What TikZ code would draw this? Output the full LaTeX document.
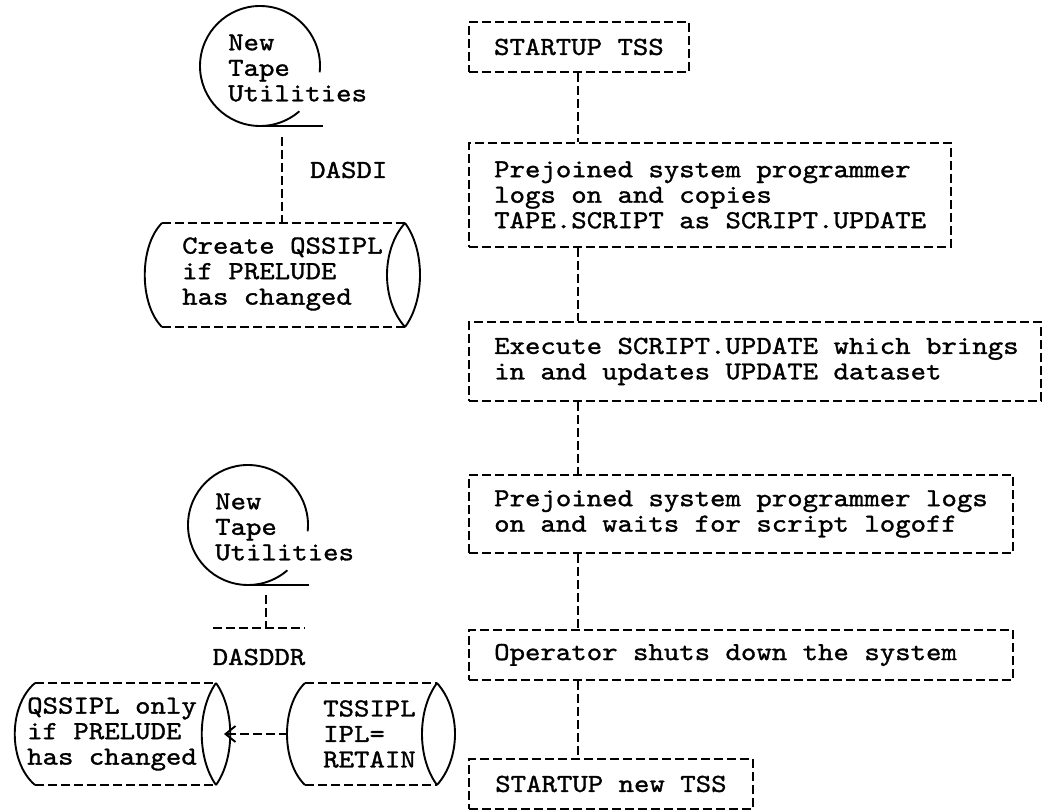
\documentclass[tikz,border=0pt]{standalone}
\usepackage{fontspec}
\newfontfamily\tw{lmmono10-regular.otf}[FakeStretch=1.13,FakeBold=1.2]
\usetikzlibrary{arrows.meta}
\begin{document}
\begin{tikzpicture}[x=1pt,y=-1pt,
  every node/.style={font=\tw\fontsize{26}{25.5}\selectfont, inner sep=0pt},
  dln/.style={line width=1.9pt, dash pattern=on 9pt off 4pt},
  sln/.style={line width=1.9pt},
  pbox/.style={draw, line width=1.9pt, dash pattern=on 9pt off 4pt, anchor=north west, inner sep=0pt},
  txt/.style={anchor=west, align=left},
]
\useasboundingbox (0,0) rectangle (1042,810);
\coordinate (cx) at (578,0);

% ---------------- right column ----------------
\node[pbox, minimum width=220pt, minimum height=50pt] (b1) at (468,21) {};
\node (t1) at (b1.center) {STARTUP TSS};

\node[pbox, minimum width=482pt, minimum height=104pt] (b2) at (468,142) {};
\node[txt] (t2) at ([xshift=26pt]b2.west) {Prejoined system programmer\\logs on and copies\\TAPE.SCRIPT as SCRIPT.UPDATE};

\node[pbox, minimum width=572pt, minimum height=79pt] (b3) at (468,321) {};
\node[txt] (t3) at ([xshift=26pt]b3.west) {Execute SCRIPT.UPDATE which brings\\in and updates UPDATE dataset};

\node[pbox, minimum width=544pt, minimum height=78pt] (b4) at (468,474) {};
\node[txt] (t4) at ([xshift=26pt]b4.west) {Prejoined system programmer logs\\on and waits for script logoff};

\node[pbox, minimum width=544pt, minimum height=50pt] (b5) at (468,629) {};
\node[txt] (t5) at ([xshift=26pt]b5.west) {Operator shuts down the system};

\node[pbox, minimum width=284pt, minimum height=50pt] (b6) at (468,758) {};
\node (t6) at (b6.center) {STARTUP new TSS};

\draw[dln] (b1.south -| cx) -- (b2.north -| cx);
\draw[dln] (b2.south -| cx) -- (b3.north -| cx);
\draw[dln] (b3.south -| cx) -- (b4.north -| cx);
\draw[dln] (b4.south -| cx) -- (b5.north -| cx);
\draw[dln] (b5.south -| cx) -- (b6.north -| cx);

% ---------------- upper left: tape + DASDI ----------------
\coordinate (c1) at (260,66);
\draw[sln] (c1) ++(6:60) arc[start angle=6, end angle=-311, radius=60];
\draw[sln] (260,126) -- (323,126);
\node[txt] (tape1) at (228,68) {New\\Tape\\Utilities};

\coordinate (d1a) at (282,137);
\coordinate (d1b) at (282,223);
\draw[dln] (d1a) -- (d1b);
\node[anchor=west] (dasdi) at (310,170) {DASDI};

% cylinder 1
\draw[sln] (162,223) .. controls (139,246) and (139,304) .. (162,327);
\draw[dln] (162,223) -- (405,223);
\draw[dln] (162,327) -- (405,327);
\draw[sln] (405,223) .. controls (381,250) and (381,300) .. (405,327);
\draw[sln] (405,223) .. controls (425,250) and (425,300) .. (405,327);
\node[txt] (cyl1) at (182,274) {Create QSSIPL\\if PRELUDE\\has changed};

% ---------------- lower left: tape + DASDDR ----------------
\coordinate (c2) at (248,525);
\draw[sln] (c2) ++(6:60) arc[start angle=6, end angle=-311, radius=60];
\draw[sln] (248,585) -- (309,585);
\node[txt] (tape2) at (215,527) {New\\Tape\\Utilities};

\coordinate (d2a) at (266,595);
\coordinate (d2b) at (266,628);
\coordinate (barL) at (213,628);
\coordinate (barR) at (305,628);
\draw[dln] (d2a) -- (d2b);
\draw[dln] (barL) -- (barR);
\node (dasddr) at (259,657) {DASDDR};

% cylinder QSSIPL
\draw[sln] (35,683) .. controls (8,706) and (8,762) .. (35,785);
\draw[dln] (35,683) -- (216,683);
\draw[dln] (35,785) -- (216,785);
\draw[sln] (216,683) .. controls (197,710) and (197,758) .. (216,785);
\draw[sln] (216,683) .. controls (235,710) and (235,758) .. (216,785);
\node[txt] (cyl2) at (27,734) {QSSIPL only\\if PRELUDE\\has changed};

% cylinder TSSIPL
\draw[sln] (305,683) .. controls (281,706) and (281,762) .. (305,785);
\draw[dln] (305,683) -- (437,683);
\draw[dln] (305,785) -- (437,785);
\draw[sln] (437,683) .. controls (417,710) and (417,758) .. (437,785);
\draw[sln] (437,683) .. controls (461,710) and (461,758) .. (437,785);
\node[txt] (cyl3) at (323,734) {TSSIPL\\IPL=\\RETAIN};

\coordinate (tsl) at (288,734);
\coordinate (qsr) at (224,734);
\draw[dln, -{Straight Barb[length=10pt,width=16pt,line width=1.9pt]}] (tsl) -- (qsr);
\end{tikzpicture}
\end{document}
